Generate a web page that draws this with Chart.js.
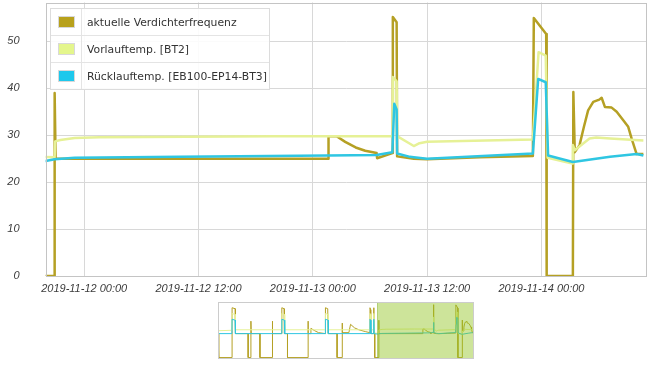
<!DOCTYPE html>
<html lang="de">
  <head>
    <meta charset="UTF-8" />
    <title>Verdichter</title>
    <style>
      body {
        margin: 0;
        background: #fff;
      }
      #wrap {
        position: relative;
        width: 657px;
        height: 367px;
      }
      #mainChart {
        position: absolute;
        left: 0;
        top: 0;
      }
      #navChart {
        position: absolute;
        left: 218px;
        top: 302px;
      }
      #legend {
        position: absolute;
        left: 50px;
        top: 8px;
        width: 218px;
        border: 1px solid #dcdcdc;
        background: rgba(255, 255, 255, 0.9);
        font-family: 'DejaVu Sans', Verdana, sans-serif;
        font-size: 10.8px;
        color: #333;
      }
      #legend .row {
        display: flex;
        height: 26px;
        border-top: 1px solid #e4e4e4;
      }
      #legend .row:first-child {
        border-top: none;
      }
      #legend .sw {
        width: 30px;
        border-right: 1px solid #e4e4e4;
        display: flex;
        align-items: center;
        justify-content: center;
      }
      #legend .sw span {
        display: block;
        width: 15px;
        height: 10px;
        border: 1px solid #d8d8d8;
      }
      #legend .txt {
        padding-left: 5px;
        display: flex;
        align-items: center;
        white-space: nowrap;
      }
    </style>
  </head>
  <body>
    <div id="wrap">
      <canvas id="mainChart" width="657" height="300"></canvas>
      <div id="legend"></div>
      <canvas id="navChart" width="256" height="57"></canvas>
    </div>
    <script src="https://cdn.jsdelivr.net/npm/chart.js"></script>
    <script>
      // hours counted from 2019-11-12 00:00
      const baseTime = Date.UTC(2019, 10, 12, 0, 0)

      const seriesNames = ['aktuelle Verdichterfrequenz', 'Vorlauftemp. [BT2]', 'Rücklauftemp. [EB100-EP14-BT3]']
      const lineColors = ['#b5a024', '#e6f196', '#2fc6e2']
      const swatchColors = ['#b8a11c', '#e4f68c', '#1ec8ec']

      const freqHours = [-5.8, -3.1, -3.1, -3.0, 25.6, 25.65, 26.5, 27.4, 28.5, 29.5, 30.7, 30.75, 32.35, 32.4, 32.8, 32.85, 34.6, 36.0, 41.5, 47.1, 47.2, 48.5, 48.55, 51.3, 51.35, 51.5, 52.0, 52.46, 52.9, 53.44, 54.07, 54.32, 54.67, 55.37, 55.9, 56.59, 57.11, 57.47, 57.99, 58.7]
      const freqValues = [0, 0, 39, 25, 25, 29.8, 29.8, 28.6, 27.4, 26.7, 26.2, 25.1, 26.2, 55.2, 54.1, 25.5, 25.0, 24.9, 25.3, 25.6, 55.0, 51.6, 0, 0, 39.2, 26.4, 27.9, 31.8, 35.3, 37.1, 37.6, 38.0, 36.0, 35.9, 35.0, 33.2, 31.8, 29.3, 26.0, 26.0]

      const flowHours = [-5.8, -3.1, -3.05, -2.5, -1.0, 1.6, 20, 32.35, 32.4, 32.8, 32.85, 34.2, 34.6, 35.2, 36.0, 47.1, 47.7, 48.45, 48.65, 51.25, 51.3, 51.5, 52.35, 53.05, 53.75, 55.2, 58.7]
      const flowValues = [25.5, 25.3, 28.7, 29.0, 29.4, 29.6, 29.8, 29.8, 42.4, 41.5, 29.8, 28.2, 27.7, 28.3, 28.6, 29.1, 47.7, 47.0, 25.2, 24.0, 27.9, 26.8, 28.2, 29.3, 29.5, 29.3, 28.9]

      const returnHours = [-5.8, -4.05, -3.1, -1.0, 10, 25.6, 30.7, 32.35, 32.55, 32.8, 32.85, 34.2, 34.6, 36.0, 47.1, 47.4, 47.66, 48.45, 48.7, 51.3, 55.2, 57.99, 58.7]
      const returnValues = [25.0, 24.5, 24.9, 25.2, 25.4, 25.7, 25.8, 26.4, 36.7, 35.5, 26.1, 25.4, 25.3, 25.0, 26.1, 34.6, 42.0, 41.3, 25.7, 24.3, 25.4, 26.0, 25.7]

      // older part, only visible in the navigator
      const navFreqHours = [-108.2, -107.7, -107.7, -99.0, -99.0, -97.0, -96.8, -88.5, -88.5, -86.7, -86.7, -86.5, -80.8, -80.8, -72.7, -72.7, -72.5, -66.5, -66.5, -65.0, -64.8, -62.8, -62.8, -49.4, -49.4, -49.2, -47.9, -47.5, -45.0, -42.5, -38.0, -38.0, -36.5, -36.3, -30.4, -30.4, -27.1, -27.1, -26.9, -22.7, -21.6, -19.0, -16.2, -11.7, -9.0, -8.9, -8.5, -8.4, -6.6, -6.5, -6.35, -6.3, -5.8]
      const navFreqValues = [25, 25, 0, 0, 52, 51, 25, 25, 0, 0, 38, 25, 25, 0, 0, 38, 25, 25, 52, 51, 25, 25, 0, 0, 38, 25, 25, 30.5, 28, 26, 25, 52, 51, 25, 25, 0, 0, 36, 26, 26, 34.7, 31, 29, 27, 26, 52, 50, 25, 25, 52, 50, 25, 25]
      const navFlowHours = [-108.2, -99.1, -99.0, -97.0, -96.8, -66.6, -66.5, -64.8, -64.6, -38.1, -38.0, -36.3, -36.1, -9.0, -8.9, -8.4, -8.3, -6.6, -6.5, -6.3, -6.2, -5.8]
      const navFlowValues = [28, 28.5, 46, 45, 29, 29, 46, 45, 29, 29, 46, 45, 29, 29, 46, 45, 29, 29, 46, 45, 26, 25.5]
      const navReturnHours = [-108.2, -99.1, -99.0, -97.0, -96.8, -66.6, -66.5, -64.8, -64.6, -38.1, -38.0, -36.3, -36.1, -9.0, -8.9, -8.4, -8.3, -6.6, -6.5, -6.3, -6.2, -5.8]
      const navReturnValues = [25, 25, 40, 39, 25, 25, 40, 39, 25, 25, 40, 39, 25, 25, 40, 39, 25, 25, 40, 39, 25, 25]

      const viewMin = -4.05
      const viewMax = 59.05
      const navMin = -108.2

      const toPoints = (hours, values) => hours.map((h, i) => ({ x: h, y: values[i] }))

      const pad = (n) => String(n).padStart(2, '0')
      const formatHour = (h) => {
        const d = new Date(baseTime + h * 3600 * 1000)
        return d.getUTCFullYear() + '-' + pad(d.getUTCMonth() + 1) + '-' + pad(d.getUTCDate()) +
          ' ' + pad(d.getUTCHours()) + ':' + pad(d.getUTCMinutes())
      }

      // legend as html table-like box
      const legendBox = document.getElementById('legend')
      seriesNames.forEach((name, i) => {
        const row = document.createElement('div')
        row.className = 'row'
        row.innerHTML = '<div class="sw"><span style="background:' + swatchColors[i] + '"></span></div><div class="txt"></div>'
        row.querySelector('.txt').textContent = name
        legendBox.appendChild(row)
      })

      const frameBorder = {
        id: 'frameBorder',
        afterDraw: (chart, args, opts) => {
          const a = chart.chartArea
          const c = chart.ctx
          c.save()
          c.strokeStyle = opts.color
          c.lineWidth = 1
          c.strokeRect(Math.round(a.left) + 0.5, Math.round(a.top) + 0.5, Math.round(a.right - a.left) - 1, Math.round(a.bottom - a.top) - 1)
          c.restore()
        }
      }

      const tickFont = { family: "'Liberation Sans', Arial, sans-serif", size: 11, style: 'italic' }

      const mainSets = [
        { data: toPoints(freqHours, freqValues), order: 3 },
        { data: toPoints(flowHours, flowValues), order: 2 },
        { data: toPoints(returnHours, returnValues), order: 1 }
      ].map((ds, i) => ({
        ...ds,
        label: seriesNames[i],
        borderColor: lineColors[i],
        backgroundColor: lineColors[i],
        borderWidth: 2.5,
        pointRadius: 0,
        tension: 0,
        borderJoinStyle: 'round'
      }))

      new Chart(document.getElementById('mainChart'), {
        type: 'line',
        data: { datasets: mainSets },
        options: {
          responsive: false,
          animation: false,
          layout: { padding: { left: 0, right: 10.3, top: 2.5, bottom: 0 } },
          plugins: {
            legend: { display: false },
            tooltip: { enabled: false },
            frameBorder: { color: '#c4c4c4' }
          },
          scales: {
            x: {
              type: 'linear',
              min: viewMin,
              max: viewMax,
              afterFit: (scale) => { scale.height = 24 },
              grid: { color: '#d8d8d8', drawTicks: false },
              border: { display: false },
              ticks: {
                stepSize: 12,
                includeBounds: false,
                autoSkip: false,
                maxRotation: 0,
                padding: 6,
                color: '#3c3c3c',
                font: tickFont,
                callback: (v) => formatHour(v)
              }
            },
            y: {
              min: 0,
              max: 58.3,
              afterFit: (scale) => {
                scale.width = 45.6
                // tick padding would otherwise be added above and below the plot
                scale.paddingTop = 0
                scale.paddingBottom = 0
              },
              grid: { color: '#d8d8d8', drawTicks: false },
              border: { display: false },
              ticks: {
                stepSize: 10,
                includeBounds: false,
                padding: 26,
                color: '#3c3c3c',
                font: tickFont
              }
            }
          }
        },
        plugins: [frameBorder]
      })

      // navigator with the shaded visible range
      const selection = {
        id: 'selection',
        afterDatasetsDraw: (chart) => {
          const x = chart.scales.x
          const a = chart.chartArea
          const c = chart.ctx
          const x0 = x.getPixelForValue(viewMin)
          const x1 = x.getPixelForValue(viewMax)
          c.save()
          c.fillStyle = 'rgba(145, 195, 30, 0.45)'
          c.fillRect(x0, a.top, x1 - x0, a.bottom - a.top)
          c.strokeStyle = 'rgba(130, 180, 40, 0.5)'
          c.strokeRect(Math.round(x0) + 0.5, a.top + 0.5, Math.round(x1 - x0) - 1, a.bottom - a.top - 1)
          c.restore()
        }
      }

      const navSets = [
        { data: toPoints(navFreqHours.concat(freqHours), navFreqValues.concat(freqValues)), order: 3 },
        { data: toPoints(navFlowHours.concat(flowHours), navFlowValues.concat(flowValues)), order: 2 },
        { data: toPoints(navReturnHours.concat(returnHours), navReturnValues.concat(returnValues)), order: 1 }
      ].map((ds, i) => ({
        ...ds,
        borderColor: lineColors[i],
        borderWidth: 1,
        pointRadius: 0,
        tension: 0
      }))

      new Chart(document.getElementById('navChart'), {
        type: 'line',
        data: { datasets: navSets },
        options: {
          responsive: false,
          animation: false,
          layout: { padding: 0 },
          plugins: {
            legend: { display: false },
            tooltip: { enabled: false },
            frameBorder: { color: '#cccccc' }
          },
          scales: {
            x: { type: 'linear', min: navMin, max: viewMax, display: false },
            y: { min: -1.5, max: 58, display: false }
          }
        },
        plugins: [selection, frameBorder]
      })
    </script>
  </body>
</html>
